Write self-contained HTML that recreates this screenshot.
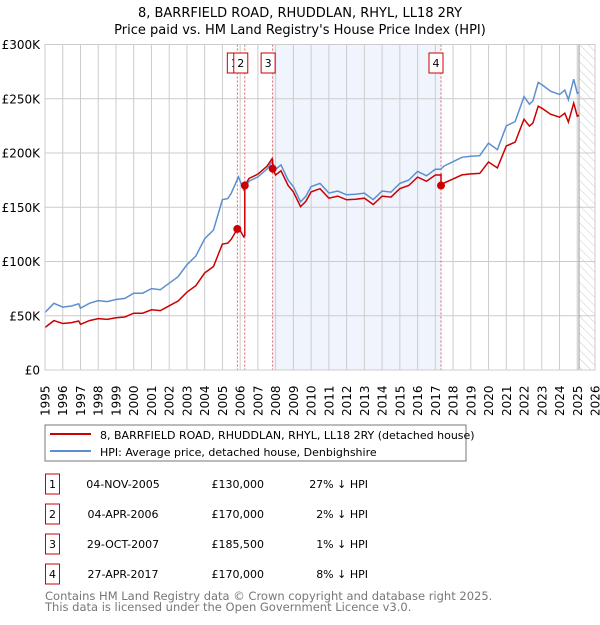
<!DOCTYPE html>
<html><head><meta charset="utf-8"><style>
body{margin:0;background:#fff;font-family:"Liberation Sans","DejaVu Sans",sans-serif;}
svg text{font-family:"DejaVu Sans","Liberation Sans",sans-serif;}
</style></head><body>
<svg id="c" width="600" height="620" viewBox="0 0 600 620" xmlns="http://www.w3.org/2000/svg">
<defs>
<pattern id="hatch" width="6" height="6" patternUnits="userSpaceOnUse" patternTransform="rotate(-45)">
<line x1="0" y1="0" x2="0" y2="6" stroke="#ccc" stroke-width="1"/></pattern>
<clipPath id="clip"><rect x="45" y="44" width="550" height="326"/></clipPath>
</defs>
<text x="300" y="17" text-anchor="middle" font-size="13">8, BARRFIELD ROAD, RHUDDLAN, RHYL, LL18 2RY</text>
<text x="300" y="34" text-anchor="middle" font-size="13">Price paid vs. HM Land Registry's House Price Index (HPI)</text>
<g id="plot"></g>
<rect x="45" y="425" width="421" height="36" fill="#fff" stroke="#777"/>
<line x1="50" y1="434" x2="91" y2="434" stroke="#cc0000" stroke-width="2"/>
<text x="100" y="439" font-size="11">8, BARRFIELD ROAD, RHUDDLAN, RHYL, LL18 2RY (detached house)</text>
<line x1="50" y1="451" x2="91" y2="451" stroke="#5b8fd0" stroke-width="2"/>
<text x="100" y="456" font-size="11">HPI: Average price, detached house, Denbighshire</text>
<g id="table" font-size="11"></g>
<text x="45" y="600" font-size="11.5" fill="#777">Contains HM Land Registry data © Crown copyright and database right 2025.</text>
<text x="45" y="611" font-size="11.5" fill="#777">This data is licensed under the Open Government Licence v3.0.</text>
</svg>
<script>
const hpiYears=[1995.0,1995.5,1996.0,1996.5,1996.9,1997.0,1997.5,1998.0,1998.5,1999.0,1999.5,2000.0,2000.5,2001.0,2001.5,2002.0,2002.5,2003.0,2003.5,2004.0,2004.5,2005.0,2005.3,2005.5,2005.9,2006.2,2006.5,2007.0,2007.5,2007.8,2008.0,2008.3,2008.7,2009.0,2009.4,2009.7,2010.0,2010.5,2011.0,2011.5,2012.0,2012.5,2013.0,2013.5,2014.0,2014.5,2015.0,2015.5,2016.0,2016.5,2017.0,2017.3,2017.5,2018.0,2018.5,2019.0,2019.5,2020.0,2020.5,2021.0,2021.5,2022.0,2022.3,2022.5,2022.8,2023.0,2023.5,2024.0,2024.3,2024.5,2024.8,2025.0,2025.1];
const hpiValues=[53,61.5,58,59,61,57,61.5,64,63,65,66,70.8,70.8,75,74,80,86,97,105,121,129,157,158,163,178,166,174,178,185,192,185,189,175,169,155,160,169,172,163,165,161.5,162,163,157,165,164,172,175,183,179,185,185,188,192,196,197,197.5,209,203,225,229,252,245,248,265,263,257,254,258,249,268,255,256];
const saleDates=[2005.84,2006.26,2007.83,2017.32];
const salePrices=[130000,170000,185500,170000];
const saleLabels=["1","2","3","4"];
const saleDateText=["04-NOV-2005","04-APR-2006","29-OCT-2007","27-APR-2017"];
const salePctText=["27% \u2193 HPI","2% \u2193 HPI","1% \u2193 HPI","8% \u2193 HPI"];
const yTicks=[0,50,100,150,200,250,300];
const yTickLabels=["£0","£50K","£100K","£150K","£200K","£250K","£300K"];
const xTicks=[1995,1996,1997,1998,1999,2000,2001,2002,2003,2004,2005,2006,2007,2008,2009,2010,2011,2012,2013,2014,2015,2016,2017,2018,2019,2020,2021,2022,2023,2024,2025,2026];

const NS="http://www.w3.org/2000/svg";
const X0=45,X1=595,Y0=370,Y1=44.5;
const xs=t=>X0+(t-1995)/31*(X1-X0);
const ys=v=>Y0-v/300*(Y0-Y1);
const plot=document.getElementById('plot');
function mk(tag,attrs,parent){const e=document.createElementNS(NS,tag);for(const k in attrs)e.setAttribute(k,attrs[k]);(parent||plot).appendChild(e);return e;}
function hpiAt(t){for(let i=0;i<hpiYears.length-1;i++){if(t<=hpiYears[i+1]){const f=(t-hpiYears[i])/(hpiYears[i+1]-hpiYears[i]);return hpiValues[i]+f*(hpiValues[i+1]-hpiValues[i]);}}return hpiValues[hpiValues.length-1];}

let e=mk('rect',{x:xs(saleDates[2]),y:Y1,width:xs(saleDates[3])-xs(saleDates[2]),height:Y0-Y1,fill:'#f0f4fc'});


e=mk('rect',{x:xs(2025.1),y:Y1,width:X1-xs(2025.1),height:Y0-Y1,fill:'url(#hatch)'});


xTicks.forEach((t,i)=>{
  const g=mk('line',{x1:xs(t),x2:xs(t),y1:Y1,y2:Y0,stroke:'#ccc','stroke-width':1});
  
  
  const tx=mk('text',{x:0,y:0,'font-size':12,transform:`translate(${xs(t)+4.5},416) rotate(-90)`});
  tx.textContent=t;
  
  
});
yTicks.forEach((v,i)=>{
  const g=mk('line',{x1:X0,x2:X1,y1:ys(v),y2:ys(v),stroke:'#ccc','stroke-width':1});
  
  
  const tx=mk('text',{x:40,y:ys(v)+4.5,'font-size':12,'text-anchor':'end'});
  tx.textContent=yTickLabels[i];
  
  
});
e=mk('line',{x1:xs(2025.1),x2:xs(2025.1),y1:Y1,y2:Y0,stroke:'#999','stroke-width':1});


saleDates.forEach((d,i)=>{
  const l=mk('line',{x1:xs(d),x2:xs(d),y1:Y1,y2:Y0,stroke:'#e06060','stroke-width':1,'stroke-dasharray':'2,2'});
  
  
});
let dH='';hpiYears.forEach((t,i)=>{dH+=(i?'L':'M')+xs(t).toFixed(1)+','+ys(hpiValues[i]).toFixed(1);});
e=mk('path',{d:dH,fill:'none',stroke:'#5b8fd0','stroke-width':1.5,'clip-path':'url(#clip)'});


function ratioAt(t){let k=0;for(let i=0;i<saleDates.length;i++)if(t>=saleDates[i])k=i;return salePrices[k]/1000/hpiAt(saleDates[k]);}
const pts=[];
hpiYears.forEach(t=>pts.push(t));saleDates.forEach(d=>{pts.push(d-0.001);pts.push(d);});
pts.sort((a,b)=>a-b);
let dP='';pts.forEach((t,i)=>{dP+=(i?'L':'M')+xs(t).toFixed(1)+','+ys(hpiAt(t)*ratioAt(t)).toFixed(1);});
e=mk('path',{d:dP,fill:'none',stroke:'#cc0000','stroke-width':1.5,'clip-path':'url(#clip)'});


const boxOffsets=[-3,-4,-4.5,-5];
saleDates.forEach((d,i)=>{
  const c=mk('circle',{cx:xs(d),cy:ys(salePrices[i]/1000),r:4,fill:'#cc0000'});
  
  
  const bx=xs(d)+boxOffsets[i];
  const r=mk('rect',{x:bx-7,y:53,width:14,height:20,fill:'#fff',stroke:'#cc0000','stroke-width':1});
  
  
  const tx=mk('text',{x:bx,y:67,'font-size':11,'text-anchor':'middle'});
  tx.textContent=saleLabels[i];
  
  
});
e=mk('rect',{x:X0,y:Y1,width:X1-X0,height:Y0-Y1,fill:'none',stroke:'#ccc'});


const tb=document.getElementById('table');
saleLabels.forEach((s,i)=>{
  const cy=483+i*30;
  const r=mk('rect',{x:45.5,y:cy-9,width:14,height:20,fill:'#fff',stroke:'#cc0000'},tb);
  
  
  let t=mk('text',{x:52.5,y:cy+5,'text-anchor':'middle'},tb);t.textContent=s;
  
  
  t=mk('text',{x:123,y:cy+5,'text-anchor':'middle'},tb);t.textContent=saleDateText[i];
  
  
  t=mk('text',{x:264,y:cy+5,'text-anchor':'end'},tb);t.textContent='£'+salePrices[i].toLocaleString('en-GB');
  
  
  t=mk('text',{x:368,y:cy+5,'text-anchor':'end'},tb);t.textContent=salePctText[i];
  
  
});
</script>
</body></html>
